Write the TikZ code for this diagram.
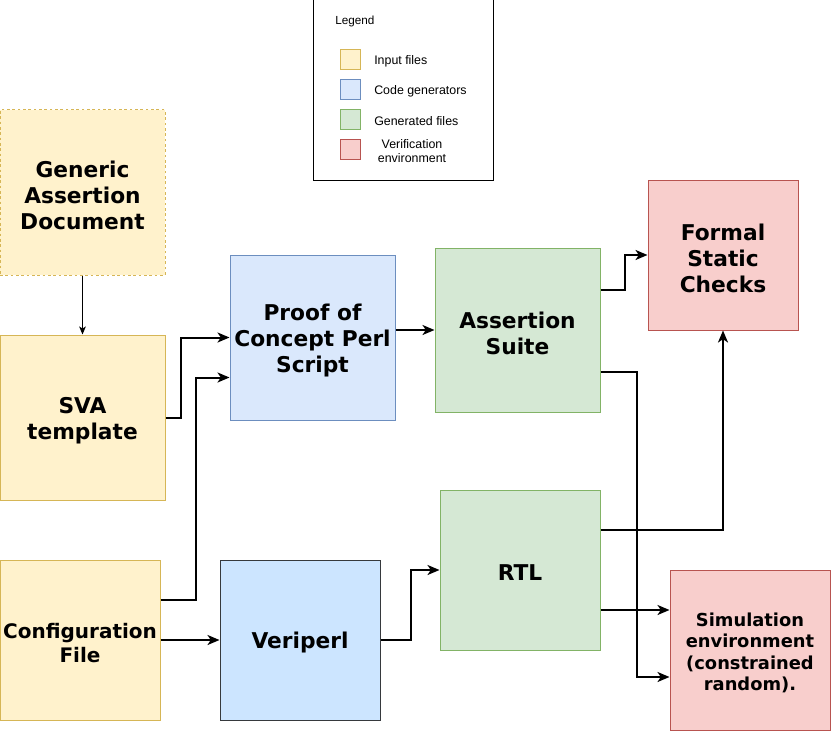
\documentclass[tikz,border=0pt]{standalone}
\usepackage{fontspec}
\setmainfont{DejaVu Sans}
\newfontfamily\legfont{Liberation Sans}
\usetikzlibrary{arrows.meta,calc}
\definecolor{yfill}{HTML}{FFF2CC}\definecolor{ydraw}{HTML}{D6B656}
\definecolor{bfill}{HTML}{DAE8FC}\definecolor{bdraw}{HTML}{6C8EBF}
\definecolor{vfill}{HTML}{CCE5FF}\definecolor{vdraw}{HTML}{36393D}
\definecolor{gfill}{HTML}{D5E8D4}\definecolor{gdraw}{HTML}{82B366}
\definecolor{rfill}{HTML}{F8CECC}\definecolor{rdraw}{HTML}{B85450}
\tikzset{
  sz/.style 2 args={minimum width=#1*0.75pt, minimum height=#2*0.75pt},
  blk/.style={draw, line width=0.75pt, inner sep=0pt},
  blkt/.style={inner sep=0pt, align=center, yshift=-2.2pt,
    font=\fontsize{16.3}{19.5}\selectfont\bfseries},
  yb/.style={blk, fill=yfill, draw=ydraw},
  bb/.style={blk, fill=bfill, draw=bdraw},
  vb/.style={blk, fill=vfill, draw=vdraw},
  gb/.style={blk, fill=gfill, draw=gdraw},
  rb/.style={blk, fill=rfill, draw=rdraw},
  sw/.style={draw, line width=0.75pt, minimum width=15pt, minimum height=15pt, inner sep=0pt},
  lt/.style={anchor=west, inner sep=0pt, font=\legfont\fontsize{9.3}{11}\selectfont},
  arr/.style={line width=1.5pt, -{Stealth[length=9pt,width=7.5pt,inset=2.5pt]}},
  tarr/.style={line width=0.75pt, -{Stealth[length=6pt,width=5pt,inset=1.5pt]}}
}
\begin{document}
\begin{tikzpicture}[x=0.75pt,y=-0.75pt]
\useasboundingbox (0,0) rectangle (831,731);
% legend
\node[draw, line width=0.75pt, sz={180}{180}] (leg) at (403,90) {};
\node[lt, font=\legfont\fontsize{8.8}{11}\selectfont] (legt) at (335,21) {Legend};
\node[sw, fill=yfill, draw=ydraw] (s1) at (350,60) {};
\node[sw, fill=bfill, draw=bdraw] (s2) at (350,90) {};
\node[sw, fill=gfill, draw=gdraw] (s3) at (350,120) {};
\node[sw, fill=rfill, draw=rdraw] (s4) at (350,150) {};
\node[lt] (l1) at (374,61) {Input files};
\node[lt] (l2) at (374,91) {Code generators};
\node[lt] (l3) at (374,121) {Generated files};
\node[lt, anchor=center, align=center] (l4) at (412,151) {Verification\\environment};
% blocks
\node[yb, sz={165}{165}, dash pattern=on 2pt off 2pt,
  label={[blkt]center:{Generic\\Assertion\\Document}}] (gad) at (82.5,192.5) {};
\node[yb, sz={165}{165}, label={[blkt]center:{SVA\\template}}] (sva) at (82.5,417.5) {};
\node[yb, sz={160}{160}, label={[blkt, font=\fontsize{15}{18.5}\selectfont\bfseries]center:{Configuration\\File}}] (cfg) at (80,640) {};
\node[bb, sz={165}{165}, label={[blkt]center:{Proof of\\Concept Perl\\Script}}] (poc) at (312.5,337.5) {};
\node[vb, sz={160}{160}, label={[blkt]center:{Veriperl}}] (ver) at (300,640) {};
\node[gb, sz={165}{164}, label={[blkt]center:{Assertion\\Suite}}] (as) at (517.5,330) {};
\node[gb, sz={160}{160}, label={[blkt]center:{RTL}}] (rtl) at (520,570) {};
\node[rb, sz={150}{150}, label={[blkt]center:{Formal\\Static\\Checks}}] (fsc) at (723,255) {};
\node[rb, sz={160}{160}, label={[blkt, font=\fontsize{13.4}{16}\selectfont\bfseries]center:{Simulation\\environment\\(constrained\\random).}}] (sim) at (750,650) {};
% connectors
\draw[tarr] (gad.south) -- (sva.north);
\draw[arr] (sva.east) -- ++(15,0) |- (poc.west);
\coordinate (c1) at ([yshift=30pt]cfg.east);
\coordinate (p2) at ([yshift=-30pt]poc.west);
\draw[arr] (c1) -- ++(35,0) |- (p2);
\draw[arr] (cfg.east) -- (ver.west);
\draw[arr] (poc.east |- as.west) -- (as.west);
\coordinate (a1) at ([yshift=30pt]as.east);
\draw[arr] (a1) -- ++(24,0) |- (fsc.west);
\coordinate (a2) at ([yshift=-31.5pt]as.east);
\coordinate (s2in) at ([yshift=-20.25pt]sim.west);
\draw[arr] (a2) -- ++(36,0) |- (s2in);
\draw[arr] (ver.east) -- ++(30,0) |- (rtl.west);
\coordinate (r1) at ([yshift=30pt]rtl.east);
\draw[arr] (r1) -| (fsc.south);
\coordinate (r2) at ([yshift=-30pt]rtl.east);
\draw[arr] (r2) -- (r2 -| sim.west);
\end{tikzpicture}
\end{document}
